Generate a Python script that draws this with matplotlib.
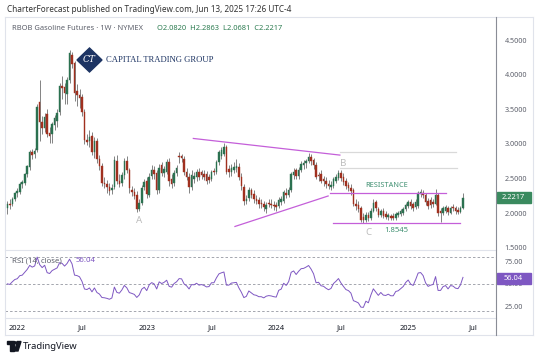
import matplotlib
matplotlib.use("Agg")
import matplotlib.pyplot as plt
from matplotlib.patches import Rectangle, Polygon, Circle
from matplotlib.lines import Line2D
import numpy as np
import pandas as pd

# weekly RBOB candles, first week 2021-12-06
opens = [2.07, 2.14, 2.13, 2.21, 2.29, 2.31, 2.43, 2.44, 2.56, 2.67, 2.88, 2.85, 2.91, 3.60, 3.32, 3.23,
         3.43, 3.16, 3.14, 3.27, 3.33, 3.46, 3.84, 3.82, 3.72, 3.92, 4.28, 4.17, 3.77, 3.70, 3.68, 3.46,
         3.06, 3.04, 3.12, 2.88, 3.05, 2.78, 2.68, 2.44, 2.42, 2.38, 2.33, 2.38, 2.76, 2.47, 2.44, 2.55,
         2.75, 2.63, 2.34, 2.31, 2.26, 2.06, 2.15, 2.38, 2.46, 2.27, 2.54, 2.63, 2.58, 2.33, 2.70, 2.58,
         2.60, 2.74, 2.50, 2.44, 2.58, 2.83, 2.82, 2.79, 2.60, 2.52, 2.38, 2.50, 2.52, 2.60, 2.59, 2.56,
         2.57, 2.53, 2.49, 2.61, 2.60, 2.74, 2.82, 2.86, 2.95, 2.64, 2.60, 2.62, 2.65, 2.67, 2.53, 2.38,
         2.18, 2.22, 2.33, 2.28, 2.21, 2.19, 2.15, 2.14, 2.06, 2.15, 2.14, 2.12, 2.12, 2.10, 2.16, 2.18,
         2.30, 2.27, 2.34, 2.55, 2.62, 2.54, 2.63, 2.69, 2.73, 2.76, 2.81, 2.77, 2.70, 2.55, 2.57, 2.49,
         2.47, 2.43, 2.38, 2.40, 2.47, 2.51, 2.58, 2.53, 2.47, 2.41, 2.37, 2.33, 2.14, 2.12, 2.07, 1.95,
         1.90, 1.97, 1.93, 2.04, 2.16, 2.06, 1.98, 2.04, 1.99, 1.94, 1.96, 1.96, 1.93, 1.97, 1.99, 2.01,
         2.06, 2.10, 2.16, 2.13, 2.09, 2.10, 2.28, 2.30, 2.26, 2.18, 2.19, 2.16, 2.14, 2.26, 2.04, 2.00,
         2.04, 2.07, 2.01, 2.09, 2.07, 2.05, 2.02, 2.0820]
highs = [2.18, 2.20, 2.23, 2.31, 2.36, 2.45, 2.48, 2.58, 2.70, 2.91, 2.93, 2.94, 3.58, 3.92, 3.40, 3.45,
         3.50, 3.25, 3.32, 3.42, 3.50, 3.88, 3.98, 3.88, 3.96, 4.36, 4.33, 4.20, 3.86, 3.80, 3.72, 3.50,
         3.14, 3.20, 3.18, 3.10, 3.09, 2.84, 2.72, 2.52, 2.48, 2.44, 2.42, 2.82, 2.84, 2.56, 2.60, 2.80,
         2.82, 2.66, 2.40, 2.37, 2.32, 2.20, 2.41, 2.50, 2.52, 2.58, 2.70, 2.68, 2.62, 2.71, 2.74, 2.68,
         2.79, 2.80, 2.56, 2.62, 2.70, 2.88, 2.86, 2.82, 2.66, 2.58, 2.62, 2.60, 2.64, 2.66, 2.63, 2.62,
         2.61, 2.57, 2.62, 2.66, 2.77, 2.92, 2.96, 3.02, 2.98, 2.70, 2.71, 2.74, 2.78, 2.72, 2.58, 2.42,
         2.26, 2.38, 2.37, 2.33, 2.26, 2.24, 2.20, 2.18, 2.16, 2.20, 2.20, 2.18, 2.17, 2.23, 2.25, 2.34,
         2.36, 2.38, 2.60, 2.66, 2.66, 2.67, 2.75, 2.77, 2.79, 2.87, 2.85, 2.80, 2.74, 2.60, 2.62, 2.54,
         2.52, 2.48, 2.46, 2.52, 2.57, 2.63, 2.62, 2.58, 2.51, 2.45, 2.42, 2.36, 2.20, 2.18, 2.10, 2.00,
         2.02, 2.02, 2.08, 2.20, 2.19, 2.09, 2.06, 2.07, 2.03, 2.00, 1.99, 2.00, 2.02, 2.03, 2.06, 2.09,
         2.15, 2.19, 2.20, 2.16, 2.20, 2.32, 2.35, 2.33, 2.29, 2.22, 2.23, 2.21, 2.35, 2.29, 2.08, 2.10,
         2.12, 2.10, 2.11, 2.13, 2.10, 2.09, 2.11, 2.2863]
lows = [1.99, 2.06, 2.10, 2.18, 2.24, 2.28, 2.37, 2.41, 2.52, 2.63, 2.79, 2.80, 2.88, 3.05, 3.15, 3.18,
        3.10, 3.01, 3.02, 3.20, 3.25, 3.42, 3.65, 3.58, 3.58, 3.88, 4.10, 3.62, 3.55, 3.52, 3.40, 3.00,
        2.98, 2.95, 2.84, 2.80, 2.72, 2.62, 2.40, 2.36, 2.30, 2.27, 2.28, 2.35, 2.42, 2.38, 2.40, 2.50,
        2.58, 2.30, 2.25, 2.20, 2.02, 2.03, 2.12, 2.33, 2.22, 2.24, 2.50, 2.50, 2.28, 2.30, 2.54, 2.52,
        2.56, 2.40, 2.37, 2.40, 2.54, 2.72, 2.74, 2.55, 2.48, 2.30, 2.34, 2.44, 2.47, 2.48, 2.50, 2.48,
        2.42, 2.44, 2.46, 2.55, 2.57, 2.70, 2.78, 2.82, 2.56, 2.52, 2.54, 2.58, 2.60, 2.48, 2.34, 2.12,
        2.13, 2.18, 2.22, 2.15, 2.14, 2.08, 2.08, 2.03, 2.00, 2.09, 2.08, 2.05, 2.04, 2.07, 2.12, 2.15,
        2.22, 2.24, 2.31, 2.50, 2.50, 2.50, 2.60, 2.64, 2.66, 2.72, 2.70, 2.64, 2.50, 2.46, 2.44, 2.40,
        2.37, 2.35, 2.33, 2.37, 2.44, 2.48, 2.47, 2.41, 2.35, 2.32, 2.27, 2.10, 2.05, 2.02, 1.88, 1.8545,
        1.88, 1.89, 1.90, 2.02, 2.04, 1.95, 1.95, 1.93, 1.92, 1.91, 1.90, 1.90, 1.91, 1.94, 1.96, 1.98,
        2.03, 2.07, 2.06, 2.04, 2.06, 2.08, 2.24, 2.22, 2.12, 2.06, 2.08, 2.09, 2.12, 1.96, 1.88, 1.97,
        2.01, 1.98, 1.99, 2.03, 1.99, 1.99, 2.00, 2.0681]
closes = [2.14, 2.12, 2.21, 2.29, 2.32, 2.43, 2.45, 2.56, 2.68, 2.88, 2.84, 2.90, 3.53, 3.32, 3.23, 3.39,
          3.15, 3.12, 3.29, 3.37, 3.45, 3.83, 3.81, 3.73, 3.92, 4.31, 4.16, 3.73, 3.71, 3.66, 3.46, 3.06,
          3.03, 3.10, 2.88, 3.05, 2.78, 2.68, 2.44, 2.42, 2.38, 2.32, 2.36, 2.77, 2.47, 2.42, 2.55, 2.75,
          2.63, 2.36, 2.31, 2.25, 2.06, 2.15, 2.37, 2.45, 2.28, 2.53, 2.63, 2.57, 2.33, 2.66, 2.58, 2.64,
          2.74, 2.46, 2.42, 2.58, 2.66, 2.81, 2.80, 2.60, 2.52, 2.38, 2.55, 2.54, 2.60, 2.53, 2.55, 2.52,
          2.47, 2.48, 2.59, 2.59, 2.74, 2.88, 2.92, 2.95, 2.60, 2.60, 2.66, 2.67, 2.68, 2.53, 2.39, 2.18,
          2.21, 2.34, 2.27, 2.20, 2.18, 2.13, 2.13, 2.09, 2.12, 2.13, 2.12, 2.10, 2.09, 2.19, 2.21, 2.31,
          2.27, 2.34, 2.56, 2.60, 2.54, 2.63, 2.71, 2.72, 2.76, 2.81, 2.76, 2.69, 2.53, 2.54, 2.47, 2.46,
          2.42, 2.39, 2.41, 2.49, 2.53, 2.58, 2.51, 2.45, 2.39, 2.37, 2.32, 2.13, 2.10, 2.06, 1.91, 1.90,
          1.98, 1.93, 2.04, 2.15, 2.07, 1.98, 2.03, 1.96, 1.95, 1.97, 1.93, 1.93, 1.99, 2.00, 2.03, 2.06,
          2.12, 2.16, 2.10, 2.08, 2.17, 2.30, 2.31, 2.27, 2.16, 2.10, 2.12, 2.13, 2.27, 2.00, 2.00, 2.07,
          2.09, 2.02, 2.08, 2.07, 2.03, 2.02, 2.08, 2.2217]

week_start = "2021-12-06"
tick_dates = ["2022-01-03", "2022-07-04", "2023-01-02", "2023-07-03",
              "2024-01-01", "2024-07-01", "2025-01-06", "2025-07-07"]
tick_labels = ["2022", "Jul", "2023", "Jul", "2024", "Jul", "2025", "Jul"]
price_ticks = [1.5, 2.0, 2.5, 3.0, 3.5, 4.0, 4.5]
rsi_ticks = [25, 50, 75]
rsi_bands = [20, 50, 80]
# Wilder averages carried in from before the first bar (RSI ~50 at the start)
rsi_seed_gain, rsi_seed_loss = 0.06, 0.06
rsi_last = 56.04

# drawn lines: (start date, start price, end date, end price)
magenta_lines = [("2023-05-13", 3.08, "2024-06-28", 2.84),
                 ("2023-09-07", 1.81, "2024-05-26", 2.25),
                 ("2024-05-31", 2.30, "2025-04-21", 2.30),
                 ("2024-06-09", 1.8545, "2025-06-02", 1.8545)]
gray_lines = [("2024-06-28", 2.88, "2025-05-19", 2.88),
              ("2024-06-28", 2.65, "2025-05-24", 2.65)]

W, H = 540, 356
GREEN, RED = "#2b7150", "#a0301f"
MAGENTA = "#c45fd9"
GRID = "#e0e3eb"
TXT = "#5d606b"
PURPLE = "#7e57c2"
font = "Noto Sans"

t0 = pd.Timestamp(week_start)
def widx(d):
    return (pd.Timestamp(d) - t0).days / 7.0

def fx(px):
    return px / W

def fy(py):
    return 1 - py / H

o, h, l, c = (np.array(v, dtype=float) for v in (opens, highs, lows, closes))
n = len(c)
x = np.arange(n)

# RSI(14) with Wilder smoothing
ag, al = rsi_seed_gain, rsi_seed_loss
rsi = []
for i in range(n):
    if i > 0:
        d = c[i] - c[i - 1]
        ag = (ag * 13 + max(d, 0)) / 14
        al = (al * 13 + max(-d, 0)) / 14
    rsi.append(100 - 100 / (1 + ag / al))

fig = plt.figure(figsize=(W / 100, H / 100), dpi=100)
fig.patch.set_facecolor("white")

x_left = (5 - 7.3) / 2.49
x_right = (496 - 7.3) / 2.49

ax = fig.add_axes([fx(5), fy(250.4), fx(496) - fx(5), fy(17.3) - fy(250.4)])
axr = fig.add_axes([fx(5), fy(317.7), fx(496) - fx(5), fy(250.4) - fy(317.7)], sharex=ax)

# candles
up = c >= o
cols = np.where(up, GREEN, RED)
ax.vlines(x, l, h, color="#6f6f6f", lw=0.6, zorder=2)
ax.bar(x, np.maximum(np.abs(c - o), 0.008), bottom=np.minimum(o, c), width=0.62,
       color=cols, edgecolor=cols, linewidth=0.3, zorder=3)

for d1, p1, d2, p2 in magenta_lines:
    ax.plot([widx(d1), widx(d2)], [p1, p2], color=MAGENTA, lw=0.9, zorder=4)
for d1, p1, d2, p2 in gray_lines:
    ax.plot([widx(d1), widx(d2)], [p1, p2], color="#d9d9d9", lw=0.9, zorder=1)

letter_kw = dict(color="#bdbdbd", fontsize=7, fontweight="bold", ha="center", va="center", family=font)
ax.text(52.9, 1.903, "A", **letter_kw)
ax.text(134.7, 2.72, "B", **letter_kw)
ax.text(145.0, 1.726, "C", **letter_kw)
ax.text(152.5, 2.40, "RESISTANCE", color="#3e8f70", fontsize=5.3, ha="center", va="center", family=font)
ax.text(156.3, 1.75, "1.8545", color="#3e8f70", fontsize=5.5, ha="center", va="center", family=font)

ax.set_xlim(x_left, x_right)
ax.set_ylim(2 + (213.3 - 250.4) / 69.3, 2 + (213.3 - 17.3) / 69.3)
ax.yaxis.tick_right()
ax.set_yticks(price_ticks)
ax.set_yticklabels([f"{v:.4f}" for v in price_ticks])
ax.tick_params(axis="y", length=0, pad=6, labelsize=5.2, labelcolor=TXT)
ax.tick_params(axis="x", length=0, labelbottom=False)
for s in ax.spines.values():
    s.set_visible(False)

# RSI pane
axr.plot(x, rsi, color=PURPLE, lw=0.7, zorder=3)
for b in rsi_bands:
    axr.axhline(b, color="#9598a1", lw=0.6, ls=(0, (3, 2.5)), zorder=1)
axr.set_ylim(50 - (317.7 - 283.85) / 0.898, 50 + (283.85 - 250.4) / 0.898)
axr.yaxis.tick_right()
axr.set_yticks(rsi_ticks)
axr.set_yticklabels([f"{v:.2f}" for v in rsi_ticks])
axr.tick_params(axis="y", length=0, pad=6, labelsize=5.2, labelcolor=TXT)
axr.set_xticks([widx(d) for d in tick_dates])
axr.set_xticklabels(tick_labels)
axr.tick_params(axis="x", length=0, pad=5, labelsize=5.4, labelcolor="#131722")
for lab in axr.get_xticklabels():
    lab.set_family(font)
    if lab.get_text().isdigit():
        lab.set_fontweight("bold")
for lab in ax.get_yticklabels() + axr.get_yticklabels():
    lab.set_family(font)
for s in axr.spines.values():
    s.set_visible(False)
leg_y = 1 - (261 - 250.4) / (317.7 - 250.4)
axr.text(0.015, leg_y, "RSI (14, close) ", transform=axr.transAxes,
         ha="left", va="center", fontsize=5.6, color=TXT, family=font)
axr.text(0.143, leg_y, f"{rsi_last:.2f}", transform=axr.transAxes,
         ha="left", va="center", fontsize=5.6, color=PURPLE, family=font)

# frame lines
lines = [((5, 533), (17.3, 17.3)), ((5, 533), (335, 335)), ((5, 5), (17.3, 335)),
         ((533, 533), (17.3, 335)), ((5, 496), (250.4, 250.4)), ((5, 496), (317.7, 317.7))]
for xs, ys in lines:
    fig.add_artist(Line2D([fx(v) for v in xs], [fy(v) for v in ys], color=GRID, lw=0.8))
fig.add_artist(Line2D([fx(496), fx(496)], [fy(17.3), fy(335)], color="#8a8d96", lw=0.8))

# price badge and RSI badge
py_last = 213.3 - (c[-1] - 2) * 69.3
fig.add_artist(Rectangle((fx(496.5), fy(py_last + 5.5)), fx(34), 11 / H, color="#3a8a5f", transform=fig.transFigure))
fig.text(fx(513.5), fy(py_last), f"{c[-1]:.4f}", color="white", fontsize=5.4, ha="center", va="center",
         fontweight="bold", family=font)
ry = 283.85 - (rsi_last - 50) * 0.898
fig.add_artist(Rectangle((fx(496.5), fy(ry + 5.5)), fx(34), 11 / H, color=PURPLE, transform=fig.transFigure))
fig.text(fx(513.5), fy(ry), f"{rsi_last:.2f}", color="white", fontsize=5.4, ha="center", va="center",
         fontweight="bold", family=font)

# header and legend
fig.text(fx(7), fy(10), "CharterForecast published on TradingView.com, Jun 13, 2025 17:26 UTC-4",
         fontsize=5.9, color="#333333", ha="left", va="center", family=font)
fig.text(fx(12), fy(29), "RBOB Gasoline Futures · 1W · NYMEX", fontsize=5.4, color=TXT,
         ha="left", va="center", family=font)
fig.text(fx(157), fy(29), f"O{o[-1]:.4f}  H{h[-1]:.4f}  L{l[-1]:.4f}  C{c[-1]:.4f}", fontsize=5.4,
         color="#2e7d52", ha="left", va="center", family=font)

# Capital Trading Group logo
fig.add_artist(Polygon([(fx(77), fy(60)), (fx(89.5), fy(48)), (fx(102), fy(60)), (fx(89.5), fy(72))],
                       closed=True, color="#1d3463", transform=fig.transFigure, zorder=10))
fig.text(fx(89.5), fy(60), "CT", color="white", fontsize=6.5, ha="center", va="center",
         family="DejaVu Serif", style="italic", zorder=11)
fig.text(fx(106), fy(60.5), "CAPITAL TRADING GROUP", color="#1d3463", fontsize=6.2, ha="left",
         va="center", family="Liberation Serif", zorder=11)

# TradingView logo
fig.add_artist(Rectangle((fx(7), fy(344)), fx(6.5), 2.6 / H, color="#131722", transform=fig.transFigure))
fig.add_artist(Rectangle((fx(10), fy(351)), fx(3.5), 7 / H, color="#131722", transform=fig.transFigure))
fig.add_artist(Circle((fx(15.6), fy(342.8)), 1.4 / W, color="#131722", transform=fig.transFigure))
fig.add_artist(Polygon([(fx(17.5), fy(341.5)), (fx(21), fy(341.5)), (fx(18), fy(351)), (fx(14.5), fy(351))],
                       closed=True, color="#131722", transform=fig.transFigure))
fig.text(fx(22.5), fy(346.5), "TradingView", fontsize=6.8, color="#131722", ha="left", va="center",
         family=font, fontweight="medium")

fig.savefig("out.png", dpi=100, facecolor="white")
